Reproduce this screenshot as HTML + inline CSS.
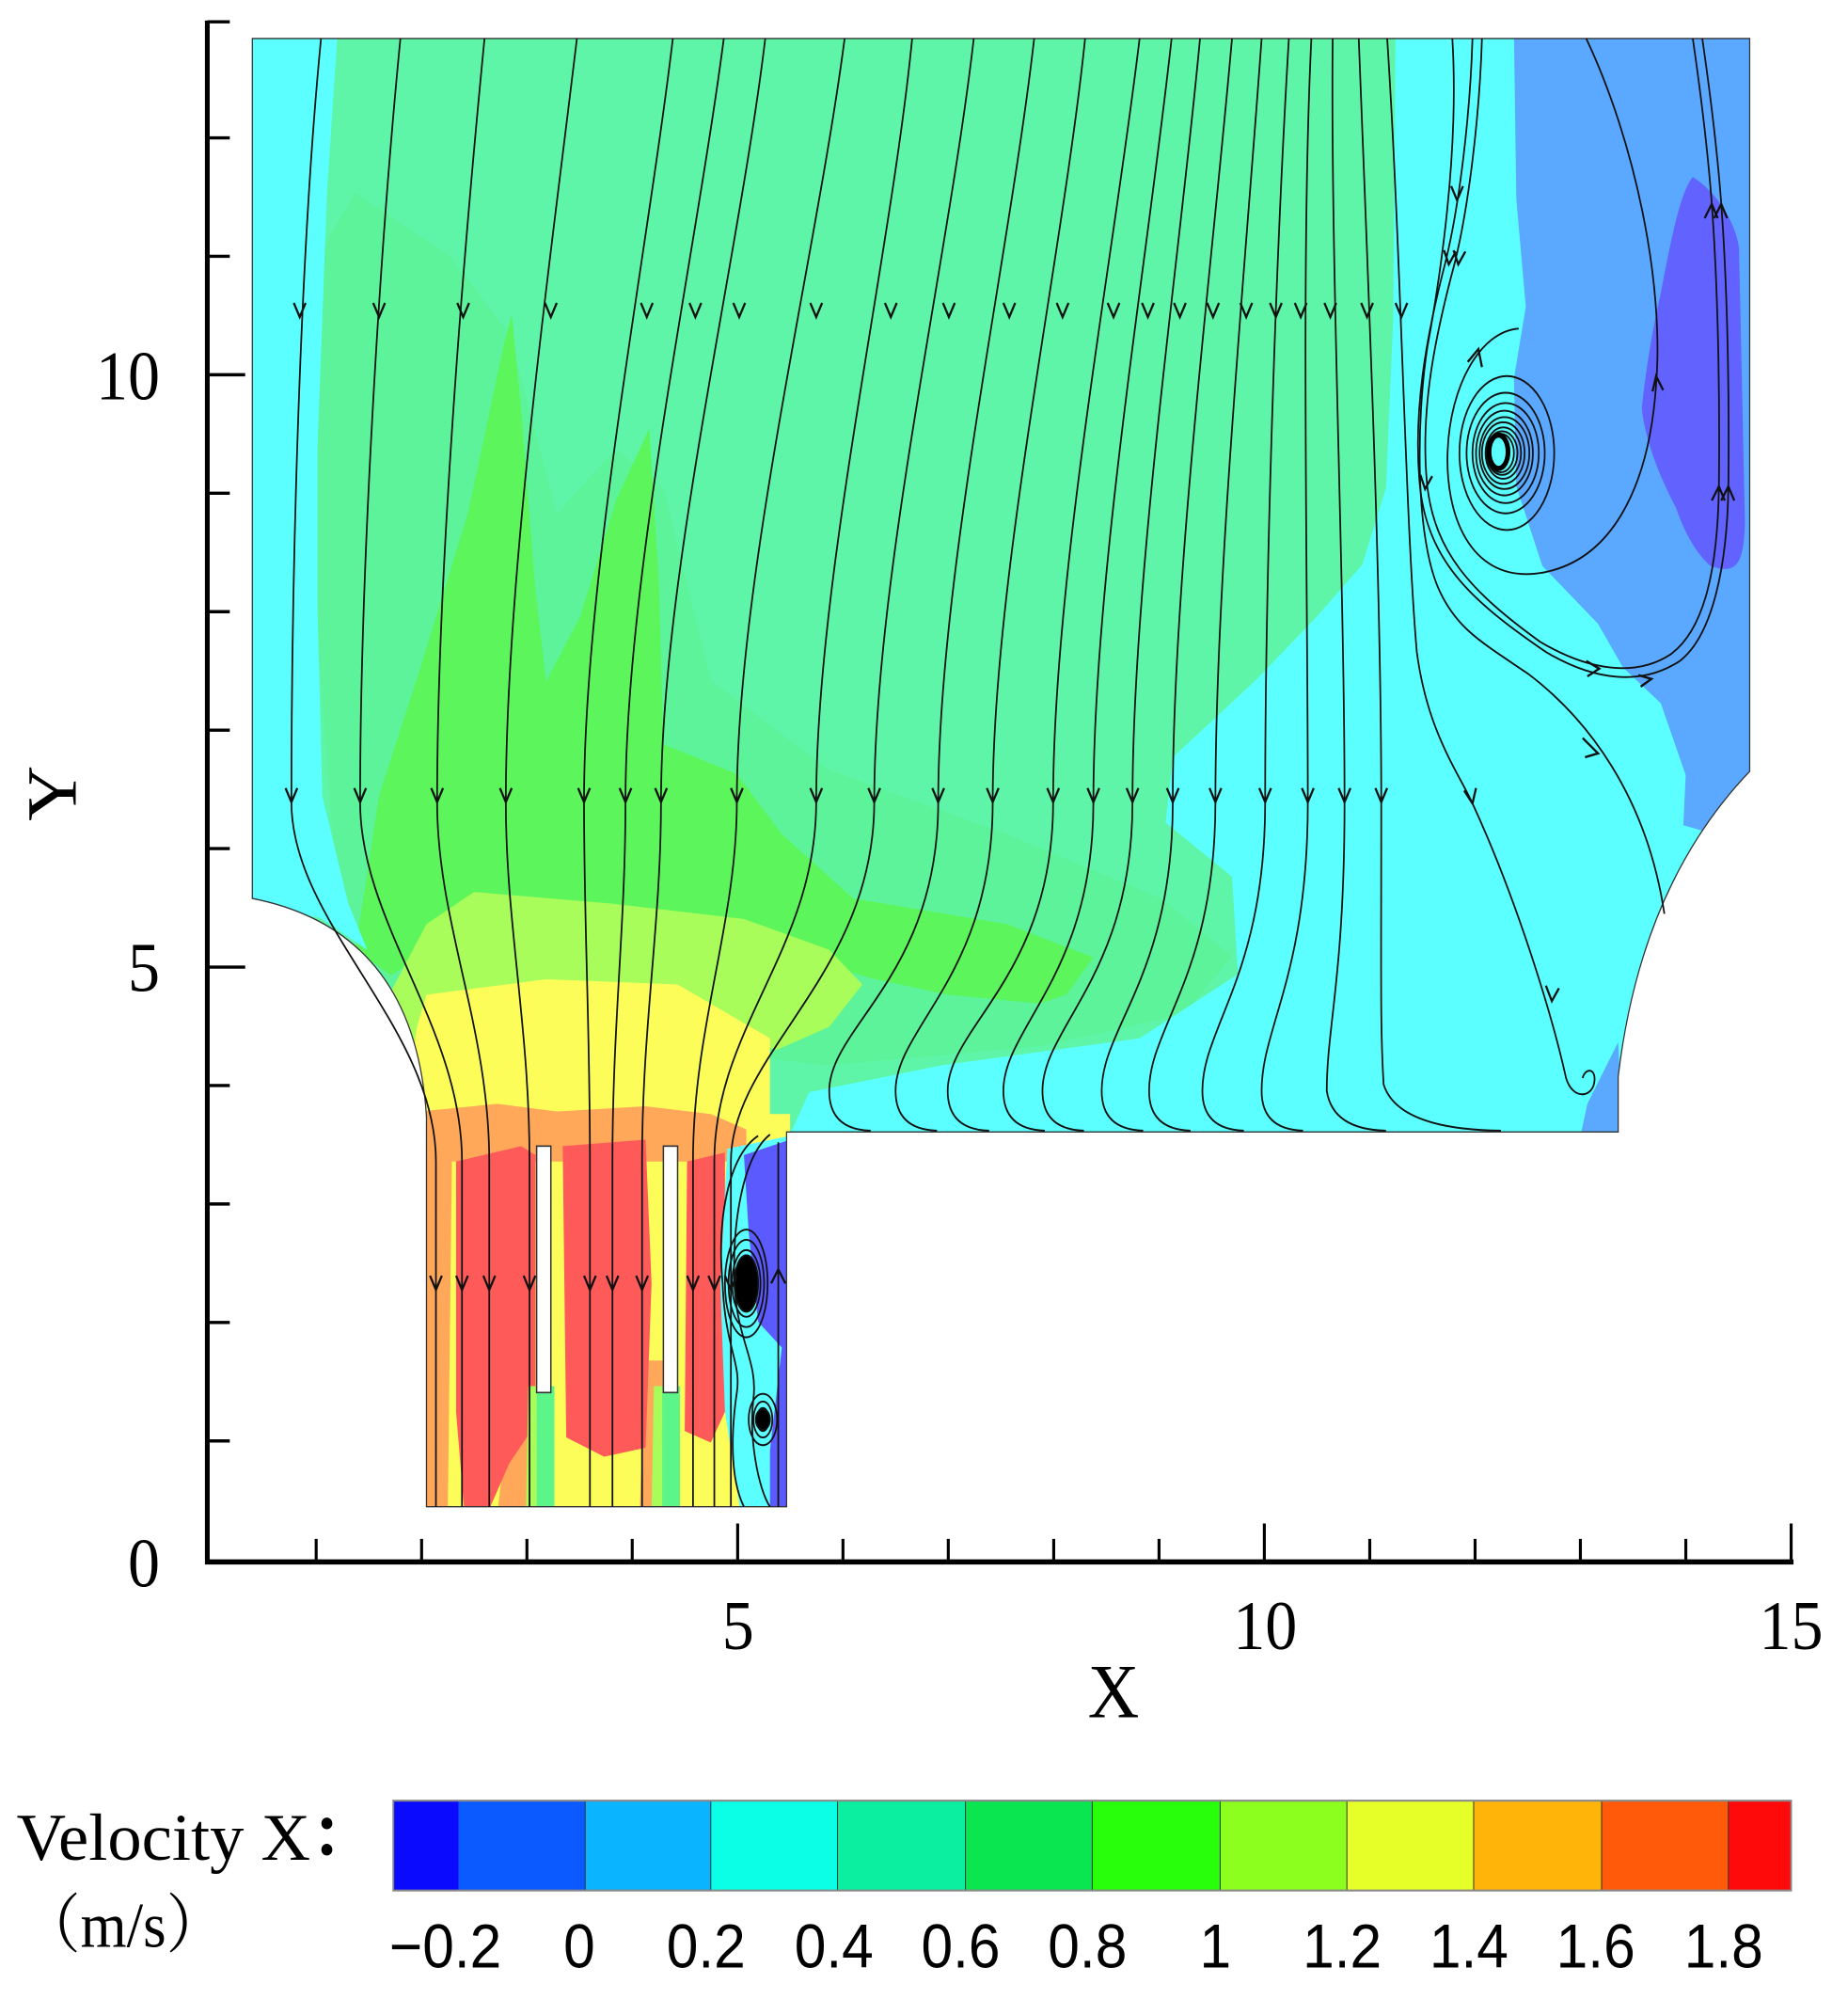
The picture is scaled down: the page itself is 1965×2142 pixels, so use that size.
<!DOCTYPE html>
<html><head><meta charset="utf-8"><style>
html,body{margin:0;padding:0;background:#fff;}
svg{display:block;}
</style></head><body>
<svg width="1965" height="2142" viewBox="0 0 1560 1570" preserveAspectRatio="none" xmlns="http://www.w3.org/2000/svg">
<defs>
<clipPath id="dom"><path d="M213,30 H1477 V601 Q1385,690 1366,839 V882 H664 V1174 H360 V870 Q350,725 213,700 Z"/></clipPath>
</defs>
<g clip-path="url(#dom)">
<rect x="200" y="20" width="1300" height="1170" fill="#5ef5a8"/>
<path fill="#5df39a" d="M268,200 L300,150 L380,200 L430,260 L470,400 L520,350 L560,380 L600,530 L700,600 L850,650 L980,700 L1040,745 L1000,790 L880,815 L700,830 L500,810 L330,770 L285,700 L268,500 Z"/>
<path fill="#5cf55c" d="M300,740 L320,620 L355,520 L395,400 L425,270 L432,245 L440,320 L452,460 L461,531 L490,480 L520,390 L548,334 L556,450 L560,580 L622,603 L660,650 L720,700 L850,720 L923,746 L900,775 L878,782 L800,775 L739,763 L650,740 L500,720 L400,720 L330,760 Z"/>
<path fill="#a8fd5a" d="M320,790 L360,720 L400,695 L516,704 L628,716 L700,740 L728,767 L700,800 L656,818 L560,800 L420,800 L340,820 Z"/>
<path fill="#fdfd5a" d="M340,880 L352,800 L360,775 L461,763 L572,767 L650,809 L650,876 L640,900 L360,900 Z"/>
<path fill="#5cffff" d="M200,25 L285,25 L276,150 L268,350 L268,472 L272,620 L294,704 L310,740 L270,715 L200,705 Z"/>
<path fill="#5cffff" d="M1178,25 L1490,25 L1490,890 L664,890 L683,851 L795,830 L962,809 L1045,759 L1040,683 L984,641 L990,590 L1060,530 L1111,481 L1150,440 L1170,380 L1176,250 Z"/>
<path fill="#5aa8ff" d="M1278,25 L1490,25 L1490,610 L1440,648 L1421,643 L1423,604 L1402,548 L1370,520 L1349,486 L1302,441 L1280,379 L1278,295 L1288,239 L1280,155 Z"/>
<path fill="#5aa8ff" d="M1366,812 L1340,860 L1333,890 L1370,890 Z"/>
<path fill="#6262ff" d="M1429,138 C1450,150 1466,175 1468,194 L1473,407 C1472,440 1466,448 1444,441 C1430,430 1420,410 1415,396 C1400,370 1388,340 1386,318 C1390,280 1398,245 1402,228 C1410,190 1418,150 1429,138 Z"/>
<rect x="355" y="868" width="312" height="310" fill="#fdfd5a"/>
<path fill="#ffa85a" d="M355,866 L420,860 L470,866 L545,862 L600,868 L630,880 L630,905 L355,905 Z"/>
<path fill="#ffa85a" d="M355,866 L382,866 L378,1178 L355,1178 Z"/>
<path fill="#ffa85a" d="M430,1100 L452,1100 L450,1178 L420,1178 Z M545,1060 L560,1060 L560,1178 L540,1178 Z"/>
<path fill="#ff5a5a" d="M385,905 L440,893 L452,900 L452,1110 L430,1140 L412,1178 L392,1178 L385,1100 Z"/>
<path fill="#ff5a5a" d="M475,893 L545,888 L550,1000 L545,1128 L510,1135 L478,1120 Z"/>
<path fill="#ff5a5a" d="M580,905 L612,898 L612,1100 L600,1124 L578,1115 Z"/>
<path fill="#5cf58a" d="M453,1080 L468,1080 L468,1178 L453,1178 Z M559,1080 L574,1080 L574,1178 L559,1178 Z"/>
<path fill="#a8fd5a" d="M446,1080 L453,1080 L453,1178 L444,1178 Z M552,1080 L559,1080 L559,1178 L550,1178 Z"/>
<path fill="#5cffff" d="M614,895 L667,885 L667,1178 L625,1178 L612,1100 L608,1000 Z"/>
<path fill="#5a5aff" d="M628,900 L667,888 L667,1178 L650,1178 L650,1130 L660,1050 L640,1030 L632,960 Z"/>
</g>
<path d="M213,30 H1477 V601 Q1385,690 1366,839 V882 H664 V1174 H360 V870 Q350,725 213,700 Z" fill="none" stroke="#333" stroke-width="1"/>
<rect x="453" y="893" width="12" height="192" fill="#fff" stroke="#333" stroke-width="1.2"/>
<rect x="560" y="893" width="12" height="192" fill="#fff" stroke="#333" stroke-width="1.2"/>

<g fill="none" stroke="#111" stroke-width="1.4">
<path d="M271,30 C253,200 246,450 246,625 C246,720 368,800 368,905 L368,1174"/>
<path d="M338,30 C320,200 304,450 304,625 C304,720 390,800 390,905 L390,1174"/>
<path d="M409,30 C391,200 369,450 369,625 C369,720 413,800 413,905 L413,1174"/>
<path d="M487,30 C465,200 427,450 427,625 C427,720 447,800 447,905 L447,1174"/>
<path d="M568,30 C546,200 493,450 493,625 C493,720 498,800 498,905 L498,1174"/>
<path d="M611,30 C587,200 528,450 528,625 C528,720 517,800 517,905 L517,1174"/>
<path d="M646,30 C624,200 558,450 558,625 C558,720 542,800 542,905 L542,1174"/>
<path d="M713,30 C689,200 622,450 622,625 C622,720 585,800 585,905 L585,1174"/>
<path d="M770,30 C752,200 689,450 689,625 C689,740 603,800 603,905 L603,1174"/>
<path d="M822,30 C801,200 738,450 738,625 C738,760 617,820 617,905 L617,1174"/>

<path d="M873,30 C852,200 792,450 792,625 C792,760 700,800 700,850 Q700,880 735,881"/>
<path d="M916,30 C897,200 838,450 838,625 C838,760 756,800 756,850 Q756,880 791,881"/>
<path d="M962,30 C940,200 889,450 889,625 C889,760 800,800 800,850 Q800,880 835,881"/>
<path d="M989,30 C969,200 923,450 923,625 C923,760 847,800 847,850 Q847,880 882,881"/>
<path d="M1013,30 C996,200 956,450 956,625 C956,760 880,800 880,850 Q880,880 915,881"/>
<path d="M1040,30 C1024,200 990,450 990,625 C990,760 930,800 930,850 Q930,880 965,881"/>
<path d="M1065,30 C1052,200 1026,450 1026,625 C1026,760 970,800 970,850 Q970,880 1005,881"/>
<path d="M1088,30 C1077,200 1068,450 1068,625 C1068,760 1015,800 1015,850 Q1015,880 1050,881"/>
<path d="M1107,30 C1098,200 1104,450 1104,625 C1104,760 1065,800 1065,850 Q1065,880 1100,881"/>
<path d="M1125,30 C1123,200 1135,450 1135,625 C1135,760 1120,800 1120,850 Q1125,880 1170,881"/>
<path d="M1147,30 C1154,200 1166,450 1166,625 C1166,760 1165,800 1168,845 Q1180,880 1267,881"/>

<path d="M1171,30 C1183,200 1186,400 1196,508 C1205,570 1230,600 1243,626 C1280,700 1310,790 1322,840 C1328,858 1345,855 1346,842 C1347,832 1338,832 1336,840"/>
<path d="M1226,30 C1232,120 1215,220 1205,270 C1195,330 1195,420 1215,460 C1230,490 1250,500 1290,525 C1340,560 1390,620 1405,712"/>
<path d="M1251,30 C1249,90 1240,160 1228,205 C1212,260 1198,320 1205,380 C1212,430 1240,460 1300,500 C1340,522 1380,528 1410,510 C1440,490 1450,440 1451,380 C1452,300 1450,200 1442,127 C1437,80 1432,50 1429,30"/>
<path d="M1243,30 C1241,90 1232,160 1220,205 C1204,262 1192,322 1199,382 C1207,440 1245,470 1305,508 C1345,530 1385,535 1418,515 C1446,495 1458,440 1459,380 C1460,300 1458,200 1450,127 C1445,80 1440,50 1437,30"/>
<path d="M1339,30 C1380,110 1405,220 1398,300 C1392,380 1360,440 1296,447 C1240,452 1220,400 1222,352 C1224,300 1250,258 1282,256"/>
<ellipse cx="1272" cy="353" rx="40" ry="60"/>
<ellipse cx="1271" cy="353" rx="33" ry="47"/>
<ellipse cx="1271" cy="353" rx="28" ry="39"/>
<ellipse cx="1270" cy="353" rx="24" ry="33"/>
<ellipse cx="1270" cy="353" rx="21" ry="28"/>
<ellipse cx="1269" cy="353" rx="18" ry="24"/>
<ellipse cx="1269" cy="353" rx="15" ry="20"/>
<ellipse cx="1268" cy="353" rx="13" ry="17"/>
<ellipse cx="1267" cy="353" rx="11" ry="15"/>
<ellipse cx="1265" cy="352" rx="8" ry="13" fill="#5cffff" stroke="#000" stroke-width="4"/>

<path d="M640,885 C615,900 605,950 610,1000 C612,1050 626,1062 622,1085 C618,1110 615,1150 628,1174"/>
<path d="M650,884 C628,900 618,950 620,1000 C622,1045 640,1060 636,1090 C632,1120 640,1160 650,1174"/>
<path d="M657,1174 L657,890"/>
<ellipse cx="630" cy="1000" rx="6" ry="12"/>
<ellipse cx="630" cy="1000" rx="9" ry="18"/>
<ellipse cx="630" cy="1000" rx="12" ry="26"/>
<ellipse cx="630" cy="1000" rx="15" ry="34"/>
<ellipse cx="630" cy="1000" rx="18" ry="42"/>
<ellipse cx="630" cy="1000" rx="10" ry="22" fill="#000"/>
<ellipse cx="644" cy="1106" rx="5" ry="9"/>
<ellipse cx="644" cy="1106" rx="8" ry="14"/>
<ellipse cx="644" cy="1106" rx="12" ry="20"/>
<ellipse cx="644" cy="1106" rx="6" ry="8" fill="#000"/>
</g>

<g fill="none" stroke="#111" stroke-width="1.8">
<path d="M248,236 L253,247 L258,236 M315,236 L320,247 L325,236 M386,236 L391,247 L396,236 M460,236 L465,247 L470,236 M541,236 L546,247 L551,236 M582,236 L587,247 L592,236 M619,236 L624,247 L629,236 M684,236 L689,247 L694,236 M747,236 L752,247 L757,236 M796,236 L801,247 L806,236 M847,236 L852,247 L857,236 M892,236 L897,247 L902,236 M935,236 L940,247 L945,236 M964,236 L969,247 L974,236 M991,236 L996,247 L1001,236 M1019,236 L1024,247 L1029,236 M1047,236 L1052,247 L1057,236 M1072,236 L1077,247 L1082,236 M1093,236 L1098,247 L1103,236 M1118,236 L1123,247 L1128,236 M1149,236 L1154,247 L1159,236 M1178,236 L1183,247 L1188,236"/>
<path d="M241,614 L246,625 L251,614 M299,614 L304,625 L309,614 M364,614 L369,625 L374,614 M422,614 L427,625 L432,614 M488,614 L493,625 L498,614 M523,614 L528,625 L533,614 M553,614 L558,625 L563,614 M617,614 L622,625 L627,614 M684,614 L689,625 L694,614 M733,614 L738,625 L743,614 M787,614 L792,625 L797,614 M833,614 L838,625 L843,614 M884,614 L889,625 L894,614 M918,614 L923,625 L928,614 M951,614 L956,625 L961,614 M985,614 L990,625 L995,614 M1021,614 L1026,625 L1031,614 M1063,614 L1068,625 L1073,614 M1099,614 L1104,625 L1109,614 M1130,614 L1135,625 L1140,614 M1161,614 L1166,625 L1171,614 M1236,616 L1243,626 L1246,614"/>
<path d="M363,994 L368,1005 L373,994 M385,994 L390,1005 L395,994 M408,994 L413,1005 L418,994 M442,994 L447,1005 L452,994 M493,994 L498,1005 L503,994 M512,994 L517,1005 L522,994 M537,994 L542,1005 L547,994 M580,994 L585,1005 L590,994 M598,994 L603,1005 L608,994 M612,994 L617,1005 L622,994"/>
<path d="M1225,145 L1230,156 L1235,145 M1227,195 L1231,206 L1237,196 M1219,195 L1223,206 L1229,196 M1199,370 L1203,381 L1209,371 M1445,390 L1451,379 L1456,390 M1453,390 L1459,379 L1464,390 M1439,170 L1445,159 L1450,170 M1447,170 L1453,159 L1458,170 M1339,515 L1350,521 L1340,527 M1383,526 L1394,529 L1385,535 M1395,305 L1398,293 L1404,304 M1239,282 L1248,272 L1251,286 M651,1000 L657,989 L663,1000 M1336,575 L1349,587 L1338,590 M1305,768 L1310,780 L1316,770"/>
</g>

<g stroke="#000" fill="none">
<path d="M175,16 V1217 H1514" stroke-width="4"/>
<path stroke-width="2.5" d="M266.9,1217 V1199 M355.9,1217 V1199 M444.8,1217 V1199 M533.7,1217 V1199 M622.7,1217 V1187 M711.6,1217 V1199 M800.5,1217 V1199 M889.5,1217 V1199 M978.4,1217 V1199 M1067.3,1217 V1187 M1156.3,1217 V1199 M1245.2,1217 V1199 M1334.1,1217 V1199 M1423.1,1217 V1199 M1512,1217 V1187
M175,1122.7 H194 M175,1030.4 H194 M175,938.1 H194 M175,845.8 H194 M175,753.5 H207 M175,661.2 H194 M175,568.9 H194 M175,476.6 H194 M175,384.3 H194 M175,292 H207 M175,199.7 H194 M175,107.4 H194 M175,17 H194"/>
</g>
<g font-family="Liberation Serif, serif" font-size="54" fill="#000">
<text x="135" y="311" text-anchor="end">10</text>
<text x="135" y="772" text-anchor="end">5</text>
<text x="135" y="1236" text-anchor="end">0</text>
<text x="623" y="1285" text-anchor="middle">5</text>
<text x="1068" y="1285" text-anchor="middle">10</text>
<text x="1512" y="1285" text-anchor="middle">15</text>
<text x="940" y="1338" text-anchor="middle" font-size="60">X</text>
<text transform="translate(64,618) rotate(-90)" text-anchor="middle" font-size="60">Y</text>
<text x="14" y="1449" font-size="52" textLength="248" lengthAdjust="spacingAndGlyphs">Velocity X</text>
<text x="262" y="1447" font-size="52" font-weight="bold" font-family="Liberation Serif, Noto Serif CJK SC, serif">：</text>
<text x="18" y="1517" font-size="50" font-family="Liberation Serif, Noto Serif CJK SC, serif">（m/s）</text>
</g>
<g>
<rect x="332" y="1403" width="56" height="70" fill="#0a0aff"/>
<rect x="387" y="1403" width="108" height="70" fill="#0a5aff"/>
<rect x="494" y="1403" width="107" height="70" fill="#0ab4ff"/>
<rect x="600" y="1403" width="108" height="70" fill="#0affe6"/>
<rect x="707" y="1403" width="109" height="70" fill="#0af0a0"/>
<rect x="815" y="1403" width="108" height="70" fill="#0ae650"/>
<rect x="922" y="1403" width="109" height="70" fill="#28ff0a"/>
<rect x="1030" y="1403" width="108" height="70" fill="#8cff1e"/>
<rect x="1137" y="1403" width="108" height="70" fill="#e6ff28"/>
<rect x="1244" y="1403" width="109" height="70" fill="#ffb40a"/>
<rect x="1352" y="1403" width="108" height="70" fill="#ff5a0a"/>
<rect x="1459" y="1403" width="53" height="70" fill="#ff0a0a"/>
<path stroke="#333" stroke-width="0.8" d="M494,1403 V1473 M600,1403 V1473 M707,1403 V1473 M815,1403 V1473 M922,1403 V1473 M1030,1403 V1473 M1137,1403 V1473 M1244,1403 V1473 M1352,1403 V1473 M1459,1403 V1473"/>
<rect x="332" y="1403" width="1180" height="70" fill="none" stroke="#888" stroke-width="1.5"/>
</g>
<g font-family="Liberation Sans, sans-serif" font-size="48" fill="#000" text-anchor="middle">
<text x="376" y="1533">−0.2</text>
<text x="489" y="1533">0</text>
<text x="596" y="1533">0.2</text>
<text x="704" y="1533">0.4</text>
<text x="811" y="1533">0.6</text>
<text x="918" y="1533">0.8</text>
<text x="1026" y="1533">1</text>
<text x="1133" y="1533">1.2</text>
<text x="1240" y="1533">1.4</text>
<text x="1347" y="1533">1.6</text>
<text x="1455" y="1533">1.8</text>
</g>
</svg>
</body></html>
